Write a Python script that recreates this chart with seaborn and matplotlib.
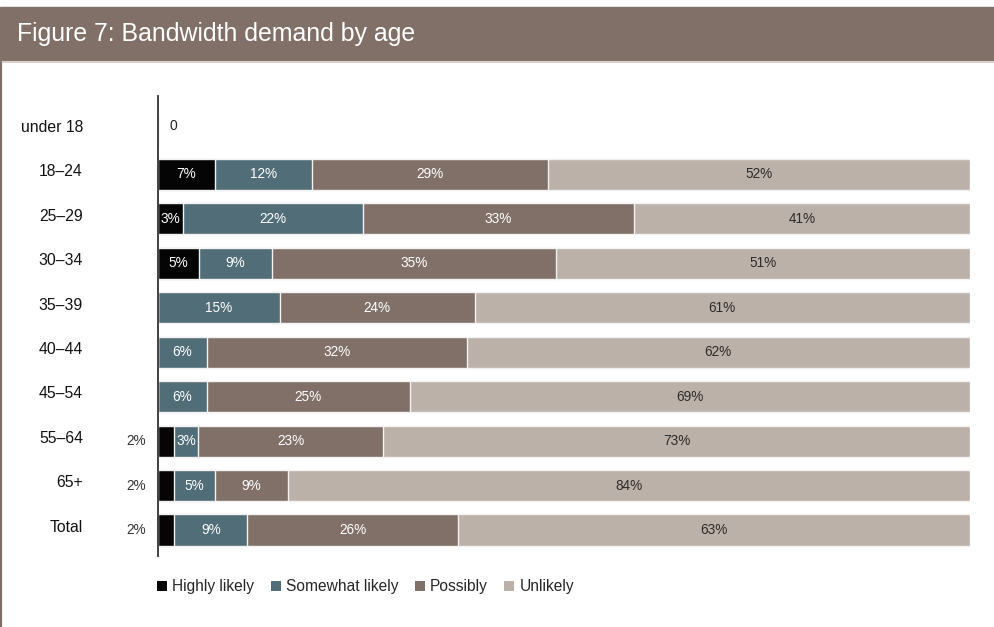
import numpy as np
import matplotlib
matplotlib.use("Agg")
import matplotlib.pyplot as plt
from matplotlib.patches import Rectangle, Patch
from matplotlib.lines import Line2D
from matplotlib.transforms import ScaledTranslation
import seaborn as sns

# Survey answers by age group (percent of respondents)
ages = ["under 18", "18–24", "25–29", "30–34", "35–39", "40–44",
        "45–54", "55–64", "65+", "Total"]
highly_likely = [0, 7, 3, 5, 0, 0, 0, 2, 2, 2]
somewhat_likely = [0, 12, 22, 9, 15, 6, 6, 3, 5, 9]
possibly = [0, 29, 33, 35, 24, 32, 25, 23, 9, 26]
unlikely = [0, 52, 41, 51, 61, 62, 69, 73, 84, 63]

series_names = ["Highly likely", "Somewhat likely", "Possibly", "Unlikely"]
series_colors = ["#050505", "#516d77", "#807068", "#bcb1a8"]
label_colors = ["white", "white", "white", "#2b2b2b"]
title_color = "#807068"

sns.set_theme(style="white")
plt.rcParams["font.family"] = ["Liberation Sans", "DejaVu Sans"]

fig = plt.figure(figsize=(9.95, 6.27), dpi=100)
fig.patch.set_facecolor("white")
ax = fig.add_axes([158 / 995, 1 - 556 / 627, 812 / 995, 460 / 627])

values = np.array([highly_likely, somewhat_likely, possibly, unlikely], dtype=float)
totals = values.sum(axis=0)
# each row is shown as a share of its own total (100% stacked bars)
share = np.divide(values * 100.0, totals, out=np.zeros_like(values),
                  where=totals > 0)
cum = share.cumsum(axis=0)

# stacked bars: draw cumulative widths from the outermost layer inwards
for k in range(3, -1, -1):
    sns.barplot(x=cum[k], y=ages, orient="h", order=ages,
                color=series_colors[k], saturation=1, width=0.7,
                edgecolor="#f2f2f2", linewidth=1.0, ax=ax)

lift = ScaledTranslation(0, 3 / 72, fig.dpi_scale_trans)

# segment labels
for i in range(len(ages)):
    if totals[i] == 0:
        ax.text(1.4, i, "0", ha="left", va="center", fontsize=10,
                color="#222222", transform=ax.transData + lift)
        continue
    for k in range(4):
        v = values[k, i]
        if v == 0:
            continue
        left = cum[k, i] - share[k, i]
        if v <= 2:
            ax.text(-1.5, i, f"{v:.0f}%", ha="right", va="center",
                    fontsize=9.8, color="#333333")
        else:
            ax.text(left + share[k, i] / 2, i, f"{v:.0f}%", ha="center",
                    va="center", fontsize=9.8, color=label_colors[k])

ax.set_xlim(0, 100)
ax.set_ylim(9.585, -0.765)
ax.set_xlabel("")
ax.set_ylabel("")
ax.set_xticks([])
ax.tick_params(axis="y", length=0, pad=54, labelsize=11.3, labelcolor="#111111")
for lab in ax.get_yticklabels():
    lab.set_transform(lab.get_transform() + lift)
for side in ["top", "right", "bottom"]:
    ax.spines[side].set_visible(False)
ax.spines["left"].set_color("#333333")
ax.spines["left"].set_linewidth(1.3)
ax.set_facecolor("white")

# header band with title
fig.add_artist(Rectangle((0, 1 - 61 / 627), 1, 54 / 627,
                         transform=fig.transFigure, color=title_color, zorder=0))
fig.add_artist(Line2D([0, 1], [1 - 62 / 627] * 2, transform=fig.transFigure,
                      color="#d9d0c9", lw=1.5))
fig.add_artist(Line2D([0.8 / 995] * 2, [0, 1 - 62 / 627], transform=fig.transFigure,
                      color=title_color, lw=1.6))
fig.text(17 / 995, 1 - 34 / 627, "Figure 7: Bandwidth demand by age",
         color="white", fontsize=17.9, va="center", ha="left")

# legend
handles = [Patch(facecolor=c, edgecolor="none") for c in series_colors]
fig.legend(handles, series_names, loc="center left",
           bbox_to_anchor=(157 / 995, 1 - 587 / 627), ncol=4, frameon=False,
           handlelength=0.65, handleheight=0.65, handletextpad=0.33,
           columnspacing=1.05, fontsize=11.2, borderpad=0, borderaxespad=0)

fig.savefig("out.png", dpi=100)
